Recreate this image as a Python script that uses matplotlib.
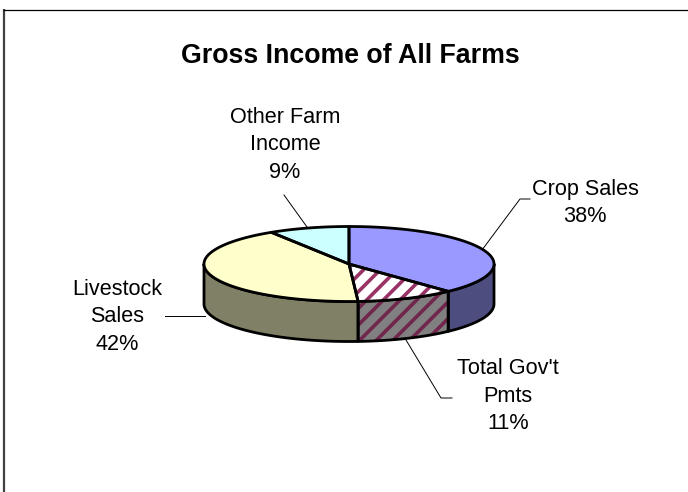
import numpy as np
import matplotlib as mpl
mpl.use('Agg')
from matplotlib import pyplot as plt
from matplotlib.patches import Polygon

plt.rcParams['font.family'] = ['Liberation Sans', 'DejaVu Sans']
plt.rcParams['hatch.linewidth'] = 2.6

#slice values, clockwise from 12 o'clock
labels = ['Crop Sales', "Total Gov't\nPmts", 'Livestock\nSales', 'Other Farm\nIncome']
shares = [38, 11, 42, 9]
top_cols = ['#9999FF', '#FFFFFF', '#FFFFCC', '#CCFFFF']
side_cols = ['#4D4D80', '#808080', '#808066', '#668080']
hatch_cols = [None, '#993366', None, None]
side_hatch_cols = [None, '#73264D', None, None]

#label placement and leader lines, in pixels
label_pos = [(585, 203), (508, 396), (117, 317), (285, 145)]
leaders = [[(482, 250), (520, 199), (530, 199)],
           [(406, 340), (441, 398), (452, 398)],
           [(205, 316), (165, 316)],
           [(307, 227), (284, 195)]]

#pie geometry in pixels
cx, cy = 349, 264
rx, ry = 145, 37.5
depth = 40


def rim(a0, a1, dy=0):
    #points along the ellipse, angle in degrees clockwise from the top
    t = np.radians(np.linspace(a0, a1, 120))
    return np.column_stack([cx + rx*np.sin(t), cy - ry*np.cos(t) + dy])


def draw_poly(ax, pts, face, hatch_col, z):
    if hatch_col:
        ax.add_patch(Polygon(pts, facecolor=face, edgecolor=hatch_col, hatch='//', lw=0, zorder=z))
    else:
        ax.add_patch(Polygon(pts, facecolor=face, edgecolor='none', zorder=z))
    ax.add_patch(Polygon(pts, fill=False, edgecolor='black', lw=2, joinstyle='round', zorder=z + 0.5))


fig = plt.figure(figsize=(6.88, 4.92), dpi=100)
ax = fig.add_axes([0, 0, 1, 1])
ax.set_xlim(0, 688)
ax.set_ylim(492, 0)
ax.axis('off')

#chart frame, only top and left edges
ax.plot([3.5, 3.5], [492, 9], color='#404040', lw=1.6, solid_capstyle='butt')
ax.plot([3, 688], [9.5, 9.5], color='black', lw=0.9, solid_capstyle='butt')

#walls first, only the front half of the rim shows
edges = np.concatenate([[0], np.cumsum(shares)]) * 3.6
for i in range(len(shares)):
    a0, a1 = max(edges[i], 90), min(edges[i + 1], 270)
    if a0 >= a1:
        continue
    pts = np.vstack([rim(a0, a1), rim(a0, a1, depth)[::-1]])
    draw_poly(ax, pts, side_cols[i], side_hatch_cols[i], 2)

#top face
for i in range(len(shares)):
    pts = np.vstack([[(cx, cy)], rim(edges[i], edges[i + 1])])
    draw_poly(ax, pts, top_cols[i], hatch_cols[i], 3)

#labels and leaders
for lab, val, pos, line in zip(labels, shares, label_pos, leaders):
    ax.text(pos[0], pos[1], '%s\n%d%%' % (lab, val), ha='center', va='center',
            fontsize=15.6, linespacing=1.42, color='black', zorder=5)
    xs, ys = zip(*line)
    ax.plot(xs, ys, color='black', lw=0.7, zorder=1)

ax.text(350, 56, 'Gross Income of All Farms', ha='center', va='center',
        fontsize=19.3, fontweight='bold', color='black')

fig.savefig('out.png', dpi=100)
